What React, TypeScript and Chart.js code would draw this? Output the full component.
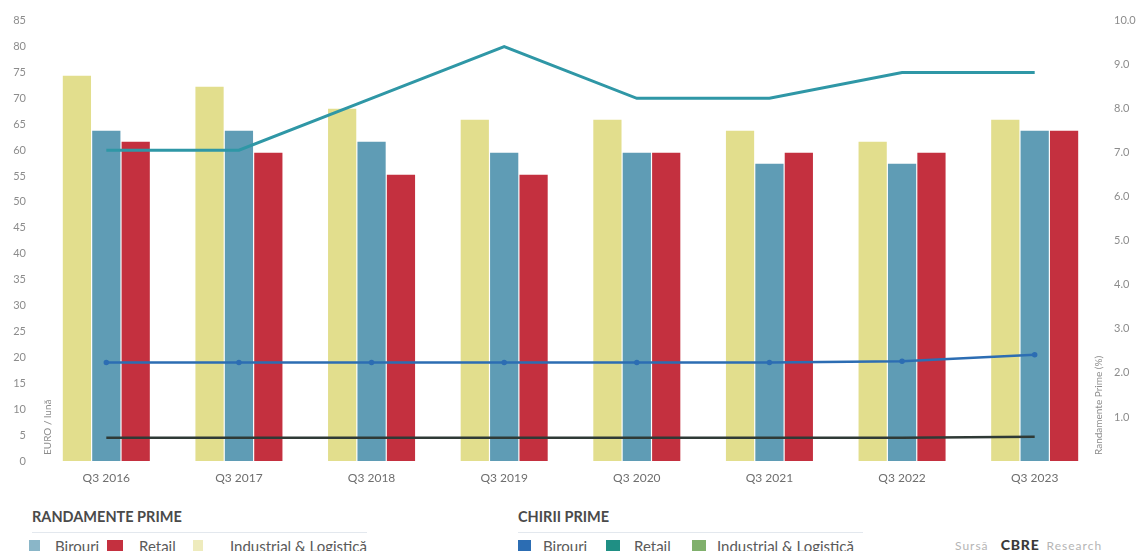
import React, { useEffect, useRef } from "react";
import { Chart, registerables } from "chart.js";

Chart.register(...registerables);

const categories = ["Q3 2016", "Q3 2017", "Q3 2018", "Q3 2019", "Q3 2020", "Q3 2021", "Q3 2022", "Q3 2023"];

// Randamente prime (%) – bars, right axis
const yieldIndustrial = [8.75, 8.5, 8.0, 7.75, 7.75, 7.5, 7.25, 7.75];
const yieldBirouri = [7.5, 7.5, 7.25, 7.0, 7.0, 6.75, 6.75, 7.5];
const yieldRetail = [7.25, 7.0, 6.5, 6.5, 7.0, 7.0, 7.0, 7.5];

// Chirii prime (EURO / lună) – lines, left axis
const rentBirouri = [19, 19, 19, 19, 19, 19, 19.25, 20.5];
const rentRetail = [60, 60, 70, 80, 70, 70, 75, 75];
const rentIndustrial = [4.5, 4.5, 4.5, 4.5, 4.5, 4.5, 4.5, 4.7];

const leftTicksMax = 85;
const rightTicksMax = 10;

const FONT = "Lato, 'Open Sans', sans-serif";

const axisTitles = {
  id: "axisTitles",
  afterDraw(chart: any) {
    const { ctx, chartArea } = chart;
    ctx.save();
    ctx.fillStyle = "#8c8c8c";
    ctx.font = `10px ${FONT}`;
    ctx.textAlign = "left";
    ctx.textBaseline = "middle";
    ctx.save();
    ctx.translate(chartArea.left + 8, chartArea.bottom - 6);
    ctx.rotate(-Math.PI / 2);
    ctx.fillText("EURO / lună", 0, 0);
    ctx.restore();
    ctx.save();
    ctx.translate(chartArea.right - 2, chartArea.bottom - 6);
    ctx.rotate(-Math.PI / 2);
    ctx.fillText("Randamente Prime (%)", 0, 0);
    ctx.restore();
    ctx.restore();
  },
};

export default function App() {
  const ref = useRef<HTMLCanvasElement | null>(null);

  useEffect(() => {
    if (!ref.current) return;
    const chart = new Chart(ref.current, {
      type: "bar",
      data: {
        labels: categories,
        datasets: [
          { type: "line", label: "Chirii Retail", data: rentRetail, yAxisID: "y", borderColor: "#2f97a6", backgroundColor: "#2f97a6", borderWidth: 3, pointRadius: 0, order: 1 },
          { type: "line", label: "Chirii Birouri", data: rentBirouri, yAxisID: "y", borderColor: "#2c6db3", backgroundColor: "#2c6db3", borderWidth: 2.5, pointRadius: 1.5, order: 1 },
          { type: "line", label: "Chirii Industrial", data: rentIndustrial, yAxisID: "y", borderColor: "#2f3a36", backgroundColor: "#2f3a36", borderWidth: 2.5, pointRadius: 0, order: 1 },
          { type: "bar", label: "Industrial & Logistică", data: yieldIndustrial, yAxisID: "y1", backgroundColor: "#e2de8d", categoryPercentage: 0.665, barPercentage: 0.96, order: 2 },
          { type: "bar", label: "Birouri", data: yieldBirouri, yAxisID: "y1", backgroundColor: "#5f9cb5", categoryPercentage: 0.665, barPercentage: 0.96, order: 2 },
          { type: "bar", label: "Retail", data: yieldRetail, yAxisID: "y1", backgroundColor: "#c4303f", categoryPercentage: 0.665, barPercentage: 0.96, order: 2 },
        ],
      } as any,
      options: {
        animation: false,
        responsive: false,
        maintainAspectRatio: false,
        layout: { padding: { top: 19, left: 0, right: 0, bottom: 0 } },
        plugins: { legend: { display: false }, tooltip: { enabled: false }, title: { display: false } },
        scales: {
          x: {
            grid: { display: false, drawTicks: false },
            border: { display: false },
            ticks: { color: "#6e6e6e", font: { size: 12, family: FONT }, padding: 10, maxRotation: 0 },
            afterFit(scale: any) { scale.height = 34; },
          },
          y: {
            position: "left",
            min: 0,
            max: leftTicksMax,
            grid: { display: false, drawTicks: false },
            border: { display: false },
            ticks: { stepSize: 5, color: "#8c8c8c", font: { size: 11, family: FONT }, padding: 14 },
            afterFit(scale: any) { scale.width = 40; },
          },
          y1: {
            position: "right",
            min: 0,
            max: rightTicksMax,
            grid: { display: false, drawTicks: false },
            border: { display: false },
            ticks: {
              stepSize: 1,
              color: "#8c8c8c",
              font: { size: 11, family: FONT },
              padding: 13,
              callback: (v: any) => (Number(v) === 0 ? "" : Number(v).toFixed(1)),
            },
            afterFit(scale: any) { scale.width = 38; },
          },
        },
      } as any,
      plugins: [axisTitles],
    });
    return () => chart.destroy();
  }, []);

  const sq = (left: number, color: string, width = 13): React.CSSProperties => ({
    position: "absolute", left, top: 540, width, height: 12, background: color,
  });
  const txt = (left: number, top: number, extra: React.CSSProperties = {}): React.CSSProperties => ({
    position: "absolute", left, top, fontFamily: FONT, fontSize: 15, color: "#5a5a5a", whiteSpace: "nowrap", lineHeight: "16px", ...extra,
  });

  return (
    <div style={{ position: "absolute", left: 0, top: 0, width: 1139, height: 551, background: "#fff", overflow: "hidden" }}>
      <canvas ref={ref} width={1139} height={495} style={{ display: "block", width: 1139, height: 495 }} />
      <div style={txt(32, 509, { fontWeight: 700, color: "#4a4a4a", fontSize: 14.5 })}>RANDAMENTE PRIME</div>
      <div style={{ position: "absolute", left: 32, top: 532, width: 335, height: 1, background: "#e3e8ee" }} />
      <div style={sq(29, "#8ab6c8", 11)} />
      <div style={txt(55, 538)}>Birouri</div>
      <div style={sq(107, "#c4303f", 16)} />
      <div style={txt(139, 538)}>Retail</div>
      <div style={sq(193, "#eeebbd", 10)} />
      <div style={txt(230, 538)}>Industrial &amp; Logistică</div>

      <div style={txt(518, 509, { fontWeight: 700, color: "#4a4a4a", fontSize: 14.5 })}>CHIRII PRIME</div>
      <div style={{ position: "absolute", left: 518, top: 532, width: 345, height: 1, background: "#e3e8ee" }} />
      <div style={sq(518, "#2c6db3")} />
      <div style={txt(543, 538)}>Birouri</div>
      <div style={sq(606, "#1f8f84", 14)} />
      <div style={txt(634, 538)}>Retail</div>
      <div style={sq(692, "#80b06c", 14)} />
      <div style={txt(717, 538)}>Industrial &amp; Logistică</div>

      <div style={txt(955, 537, { fontSize: 12, color: "#b5b5b5", letterSpacing: 1 })}>
        Sursă <span style={{ fontWeight: 900, fontSize: 14, color: "#3a3a3a", letterSpacing: 0.8, marginLeft: 8, marginRight: 3 }}>CBRE</span> Research
      </div>
    </div>
  );
}
